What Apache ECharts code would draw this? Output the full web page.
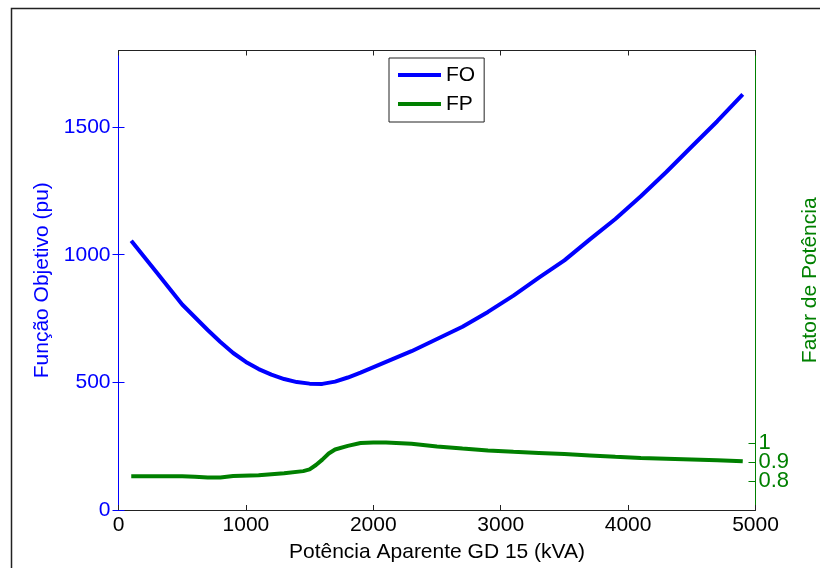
<!DOCTYPE html>
<html>
<head>
<meta charset="utf-8">
<script src="https://cdn.jsdelivr.net/npm/echarts@6/dist/echarts.min.js"></script>
<style>html,body{margin:0;padding:0;background:#fff;}#c{width:820px;height:568px;}</style>
</head>
<body>
<div id="c"></div>
<script>
const foX = [100,300,500,700,800,900,1000,1100,1200,1300,1400,1500,1600,1700,1800,1900,2100,2300,2500,2700,2900,3100,3300,3500,3700,3900,4100,4300,4500,4700,4900];
const foY = [1055,930,805,705,658,615,580,552,530,513,501,495,494,503,519,538,580,622,670,718,776,840,910,978,1060,1140,1229,1324,1424,1523,1628];
const fpX = [100,300,500,600,700,800,900,1100,1300,1450,1500,1550,1600,1650,1700,1800,1900,2000,2100,2300,2500,2700,2900,3100,3300,3500,3700,3900,4100,4300,4500,4700,4900];
const fpY = [0.826,0.826,0.826,0.824,0.820,0.820,0.827,0.831,0.842,0.853,0.862,0.885,0.913,0.945,0.966,0.985,1.000,1.003,1.003,0.996,0.982,0.971,0.961,0.954,0.948,0.942,0.935,0.928,0.922,0.918,0.914,0.910,0.904];
const xTicks = [0,1000,2000,3000,4000,5000];
const foTicks = [0,500,1000,1500];
const fpTicksA = [0.8,1];
const fpTicksB = [0.9];

const font = 'Liberation Sans, Arial, sans-serif';
const gridBox = {left:118.5,top:50.5,width:637,height:459.5,outerBoundsMode:'none',containLabel:false};
const fpAxisBase = (grid, ticks) => ({
  gridIndex:grid,type:'value',position:'right',min:0.65,max:3.05,
  axisLine:{show:true,onZero:false,lineStyle:{color:'#008000',width:1}},
  axisTick:{show:true,inside:true,length:7,customValues:ticks,lineStyle:{color:'#008000'}},
  axisLabel:{fontSize:22,color:'#008000',margin:3,customValues:ticks,fontFamily:font,
    hideOverlap:false,formatter:v=>String(Math.round(v*10)/10)},
  splitLine:{show:false}
});
const hiddenX = grid => ({gridIndex:grid,type:'value',min:0,max:5000,show:false});
const chart = echarts.init(document.getElementById('c'), null, {renderer:'canvas'});
const fpMain = fpAxisBase(0, fpTicksA);
Object.assign(fpMain,{name:'Fator de Potência',nameLocation:'middle',nameGap:39,nameRotate:90,
  nameTextStyle:{fontSize:21,color:'#008000',fontFamily:font}});
chart.setOption({
  animation:false,
  backgroundColor:'#fff',
  textStyle:{fontFamily:font},
  graphic:[{type:'rect',shape:{x:11.5,y:8.5,width:900,height:700},style:{fill:'none',stroke:'#222',lineWidth:1.5},z:-1}],
  grid:[Object.assign({},gridBox),Object.assign({},gridBox),Object.assign({},gridBox)],
  legend:{
    left:389,top:58,orient:'vertical',
    icon:'rect',itemWidth:43,itemHeight:4,itemGap:7,
    padding:[6,9,7,9],
    borderColor:'#222',borderWidth:1,backgroundColor:'#fff',
    textStyle:{fontSize:21,color:'#000',fontFamily:font,lineHeight:22},
    data:['FO','FP']
  },
  xAxis:[
    {gridIndex:0,type:'value',position:'bottom',min:0,max:5000,interval:1000,
     name:'Potência Aparente GD 15 (kVA)',nameLocation:'middle',nameGap:32,
     nameTextStyle:{fontSize:21,color:'#000',fontFamily:font},
     axisLine:{onZero:false,lineStyle:{color:'#222',width:1}},
     axisTick:{inside:true,length:5,customValues:xTicks,lineStyle:{color:'#222'}},
     axisLabel:{fontSize:21,color:'#000',margin:5,customValues:xTicks,fontFamily:font,
       formatter:v=>String(v)},
     splitLine:{show:false}},
    {gridIndex:1,type:'value',position:'top',min:0,max:5000,interval:1000,
     axisLine:{onZero:false,lineStyle:{color:'#222',width:1}},
     axisTick:{inside:true,length:5,lineStyle:{color:'#222'}},
     axisLabel:{show:false},splitLine:{show:false}},
    hiddenX(2)
  ],
  yAxis:[
    {gridIndex:0,type:'value',position:'left',min:0,max:1800,
     name:'Função Objetivo (pu)',nameLocation:'middle',nameGap:58,nameRotate:90,
     nameTextStyle:{fontSize:21,color:'#0000ff',fontFamily:font},
     axisLine:{show:true,onZero:false,lineStyle:{color:'#0000ff',width:1}},
     axisTick:{show:true,inside:true,length:6,customValues:foTicks,lineStyle:{color:'#0000ff'}},
     axisLabel:{fontSize:21,color:'#0000ff',margin:8,customValues:foTicks,fontFamily:font,
       formatter:v=>String(v)},
     splitLine:{show:false}},
    fpMain,
    {gridIndex:1,type:'value',position:'right',min:0,max:1800,
     axisLine:{show:false},
     axisTick:{show:true,inside:true,length:6,customValues:foTicks,lineStyle:{color:'#0000ff'}},
     axisLabel:{show:false},splitLine:{show:false}},
    fpAxisBase(2, fpTicksB)
  ],
  series:[
    {name:'FO',type:'line',xAxisIndex:0,yAxisIndex:0,symbol:'none',smooth:false,
     lineStyle:{color:'#0000ff',width:4},itemStyle:{color:'#0000ff'},
     data:foX.map((x,i)=>[x,foY[i]])},
    {name:'FP',type:'line',xAxisIndex:0,yAxisIndex:1,symbol:'none',smooth:false,
     lineStyle:{color:'#008000',width:4},itemStyle:{color:'#008000'},
     data:fpX.map((x,i)=>[x,fpY[i]])}
  ]
});
</script>
</body>
</html>
